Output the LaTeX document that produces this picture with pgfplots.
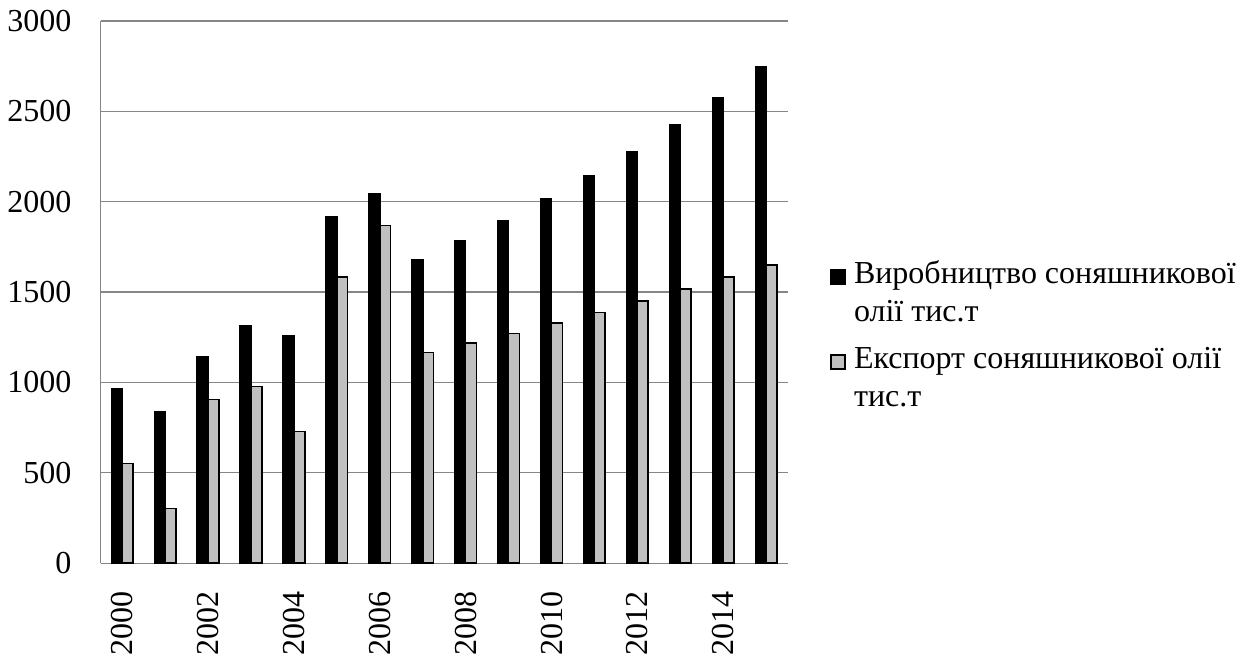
\documentclass[border=0pt]{standalone}
\usepackage{fontspec}
\setmainfont{Liberation Serif}
\usepackage{pgfplots}
\pgfplotsset{compat=1.18}
\definecolor{barfill}{HTML}{C0C0C0}
\definecolor{gridc}{HTML}{868686}

\begin{document}
\begin{tikzpicture}
\useasboundingbox (-50.35pt,-47.85pt) rectangle (571.65pt,281.65pt);
\begin{axis}[
  at={(0,0)}, anchor=south west,
  scale only axis,
  width=343.5pt, height=271.2pt,
  ybar=0pt, bar width=5.4pt,
  ymin=0, ymax=3000, ytick={0,500,...,3000},
  xmin=-0.5, xmax=15.5,
  xtick={0,2,...,14},
  xticklabels={2000,2002,2004,2006,2008,2010,2012,2014},
  axis x line*=bottom, axis y line*=left,
  axis line style={gridc, line width=0.6pt},
  ymajorgrids, grid style={gridc, line width=0.6pt},
  major tick length=0pt,
  tick label style={font=\fontsize{16}{19}\selectfont, inner sep=0pt},
  xticklabel style={rotate=90, anchor=east},
  xticklabel shift=14pt, yticklabel shift=14.5pt,
  /pgf/number format/assume math mode=true,
  /pgf/number format/1000 sep={},
  scaled y ticks=false,
  legend image code/.code={\draw[#1, line width=0.8pt] (0pt,-0.3pt) rectangle (7pt,6.7pt);},
  legend style={draw=none, fill=none, at={(1.0616,0.5741)}, anchor=north west,
    inner sep=0pt, font=\fontsize{16}{19.3}\selectfont,
    cells={anchor=base west, inner sep=0pt}, row sep=23.4pt, column sep=2pt},
]
% production of sunflower oil
\addplot[fill=black, draw=black, line width=0.8pt] coordinates {
  (0,965) (1,837) (2,1143) (3,1314) (4,1257) (5,1917) (6,2044) (7,1676)
  (8,1784) (9,1897) (10,2016) (11,2146) (12,2278) (13,2428) (14,2577) (15,2746)
};
\addlegendentry{\begin{tabular}[t]{@{}l@{}}Виробництво соняшникової\\олії тис.т\end{tabular}}
% export of sunflower oil
\addplot[fill=barfill, draw=black, line width=0.8pt] coordinates {
  (0,551) (1,302) (2,907) (3,977) (4,728) (5,1582) (6,1869) (7,1167)
  (8,1217) (9,1272) (10,1329) (11,1388) (12,1452) (13,1517) (14,1583) (15,1650)
};
\addlegendentry{\begin{tabular}[t]{@{}l@{}}Експорт соняшникової олії\\тис.т\end{tabular}}
\end{axis}
\end{tikzpicture}
\end{document}
